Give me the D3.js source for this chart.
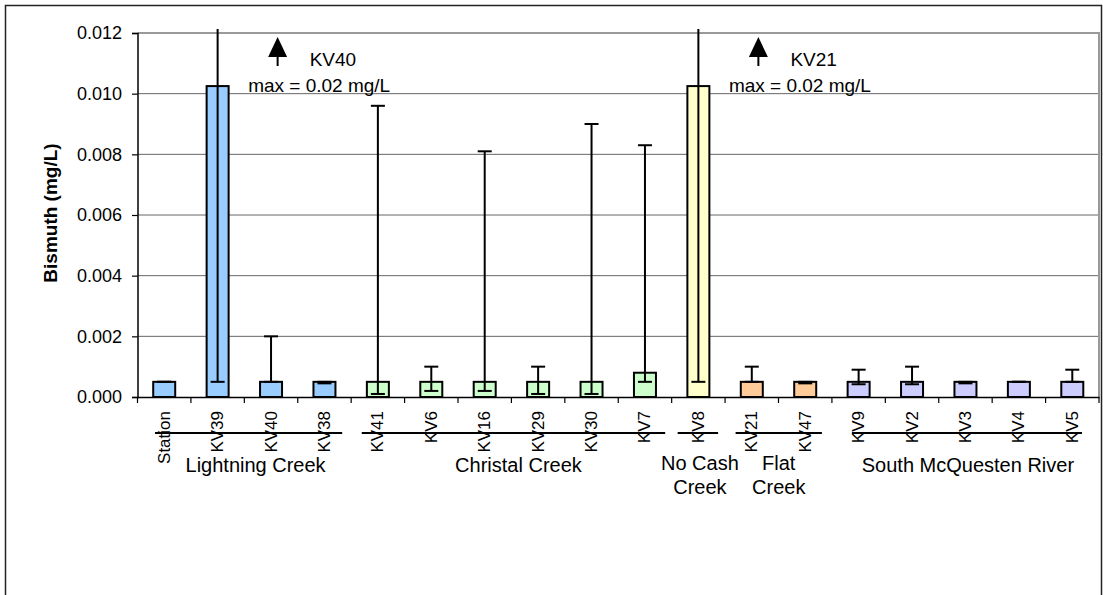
<!DOCTYPE html>
<html>
<head>
<meta charset="utf-8">
<script src="https://cdn.jsdelivr.net/npm/d3@7"></script>
<style>
  html, body { margin: 0; padding: 0; background: #fff; }
  svg { display: block; font-family: "Liberation Sans", Arial, sans-serif; }
</style>
</head>
<body>
<svg id="chart" width="1103" height="595"></svg>
<script>
// ---------- data ----------
const stations = ["Station","KV39","KV40","KV38","KV41","KV6","KV16","KV29","KV30","KV7","KV8","KV21","KV47","KV9","KV2","KV3","KV4","KV5"];
const meanValues = [0.0005,0.01025,0.0005,0.0005,0.0005,0.0005,0.0005,0.0005,0.0005,0.0008,0.01025,0.0005,0.0005,0.0005,0.0005,0.0005,0.0005,0.0005];
const minValues  = [0.0005,0.0005,0.0005,0.00045,0.0001,0.0002,0.0002,0.0001,0.0001,0.0005,0.0005,0.0005,0.00045,0.00042,0.00042,0.00045,0.0005,0.0005];
const maxValues  = [0.0005,0.02,0.002,0.0005,0.0096,0.001,0.0081,0.001,0.009,0.0083,0.02,0.001,0.0005,0.0009,0.001,0.0005,0.0005,0.0009];
const groupNames = [["Lightning Creek"],["Christal Creek"],["No Cash","Creek"],["Flat","Creek"],["South McQuesten River"]];
const groupStart = [0,4,10,11,13];
const groupEnd   = [3,9,10,12,17];
const groupColors = ["#99CCFF","#CCFFCC","#FFFFCC","#FFCC99","#CCCCFF"];
const yTicks = [0,0.002,0.004,0.006,0.008,0.010,0.012];
const yTitle = "Bismuth (mg/L)";
const annotations = [
  {station:"KV39", label:"KV40", text:"max = 0.02 mg/L"},
  {station:"KV8",  label:"KV21", text:"max = 0.02 mg/L"}
];

// ---------- layout ----------
const svg = d3.select("#chart");
const pLeft = 137.5, pRight = 1099, pTop = 33, pBottom = 397;
const x = d3.scaleBand().domain(stations).range([pLeft, pRight]).padding(0);
const y = d3.scaleLinear().domain([0, 0.012]).range([pBottom, pTop]);
const barW = 22;
const groupOf = i => groupStart.findIndex((s, g) => i >= s && i <= groupEnd[g]);
const lineInsetL = [17.5, 10.6, 6, 10.5, 20];
const lineInsetR = [9, 6.5, 7, 10, 17];
const labelDx = [7, 5, 2, 0, 1];

// outer border
svg.append("rect").attr("x",5.5).attr("y",5.5).attr("width",1096).attr("height",620)
  .attr("fill","#fff").attr("stroke","#222").attr("stroke-width",1.5);

// gridlines
svg.append("g").selectAll("line").data(yTicks.filter(t => t > 0 && t < 0.012)).join("line")
  .attr("x1",pLeft).attr("x2",pRight).attr("y1",d=>y(d)).attr("y2",d=>y(d))
  .attr("stroke","#666").attr("stroke-width",1);

// plot border (top & right, gray)
svg.append("path")
  .attr("d",`M${pLeft},${y(0.012)}H${pRight}V${pBottom}`)
  .attr("fill","none").attr("stroke","#9a9a9a").attr("stroke-width",2);

// bars
svg.append("g").selectAll("rect").data(stations).join("rect")
  .attr("x",d=>x(d)+x.bandwidth()/2-barW/2)
  .attr("width",barW)
  .attr("y",(d,i)=>y(meanValues[i]))
  .attr("height",(d,i)=>y(0)-y(meanValues[i]))
  .attr("fill",(d,i)=>groupColors[groupOf(i)])
  .attr("stroke","#000").attr("stroke-width",2);

// error bars (clipped just above plot top)
svg.append("clipPath").attr("id","errclip").append("rect")
  .attr("x",0).attr("y",pTop-4).attr("width",1103).attr("height",pBottom-pTop+4);
const eg = svg.append("g").attr("clip-path","url(#errclip)");
const capW = 14;
stations.forEach((s,i)=>{
  const cx = x(s)+x.bandwidth()/2;
  eg.append("line").attr("x1",cx).attr("x2",cx).attr("y1",y(minValues[i])).attr("y2",y(maxValues[i]))
    .attr("stroke","#000").attr("stroke-width",2);
  [minValues[i], maxValues[i]].forEach(v=>{
    eg.append("line").attr("x1",cx-capW/2).attr("x2",cx+capW/2).attr("y1",y(v)).attr("y2",y(v))
      .attr("stroke","#000").attr("stroke-width",2);
  });
});

// y axis
const yAxis = d3.axisLeft(y).tickValues(yTicks).tickFormat(d3.format(".3f")).tickSize(5.5).tickPadding(10);
const yg = svg.append("g").attr("transform",`translate(${pLeft},0)`).call(yAxis);
yg.select(".domain").attr("stroke","#000").attr("stroke-width",1.5);
yg.selectAll(".tick line").attr("stroke","#000").attr("stroke-width",1.2);
yg.selectAll(".tick text").attr("font-size",18).attr("fill","#000")
  .attr("font-family","'Liberation Sans', Arial, sans-serif");

// x axis
const xg = svg.append("g").attr("transform",`translate(0,${pBottom})`)
  .call(d3.axisBottom(x).tickSize(0).tickFormat(""));
xg.select(".domain").attr("stroke","#000").attr("stroke-width",1.5);
xg.selectAll(".tick").remove();
const bounds = stations.map(s=>x(s)).concat([pRight]);
svg.append("g").selectAll("line").data(bounds).join("line")
  .attr("x1",d=>d).attr("x2",d=>d).attr("y1",pBottom).attr("y2",pBottom+6)
  .attr("stroke","#000").attr("stroke-width",1.2);

// x tick labels (rotated)
svg.append("g").selectAll("text").data(stations).join("text")
  .attr("transform",d=>`translate(${x(d)+x.bandwidth()/2},${pBottom+14}) rotate(-90)`)
  .attr("text-anchor","end").attr("dominant-baseline","central")
  .attr("font-size",17).attr("fill","#000").text(d=>d);

// group lines and labels
groupNames.forEach((names,g)=>{
  const x0 = x(stations[groupStart[g]]) + lineInsetL[g];
  const x1 = x(stations[groupEnd[g]]) + x.bandwidth() - lineInsetR[g];
  svg.append("line").attr("x1",x0).attr("x2",x1).attr("y1",433).attr("y2",433)
    .attr("stroke","#000").attr("stroke-width",1.8);
  const cx = (x0+x1)/2 + labelDx[g];
  names.forEach((n,k)=>{
    svg.append("text").attr("x",cx).attr("y",(names.length>1?470:472)+k*24)
      .attr("text-anchor","middle").attr("font-size",20).attr("fill","#000").text(n);
  });
});

// y title
svg.append("text").attr("transform",`translate(57,213) rotate(-90)`)
  .attr("text-anchor","middle").attr("font-size",19).attr("font-weight","bold").attr("fill","#000")
  .text(yTitle);

// annotations
annotations.forEach(a=>{
  const cx = x(a.station)+x.bandwidth()/2;
  const ax = cx + 60;
  svg.append("path").attr("d",`M${ax},37 L${ax+9.5},57 L${ax-9.5},57 Z`).attr("fill","#000");
  svg.append("line").attr("x1",ax).attr("x2",ax).attr("y1",56).attr("y2",66)
    .attr("stroke","#000").attr("stroke-width",2);
  svg.append("text").attr("x",ax+32).attr("y",65.5).attr("font-size",19).attr("fill","#000").text(a.label);
  svg.append("text").attr("x",ax-29.5).attr("y",91.5).attr("font-size",19).attr("fill","#000").text(a.text);
});
</script>
</body>
</html>
